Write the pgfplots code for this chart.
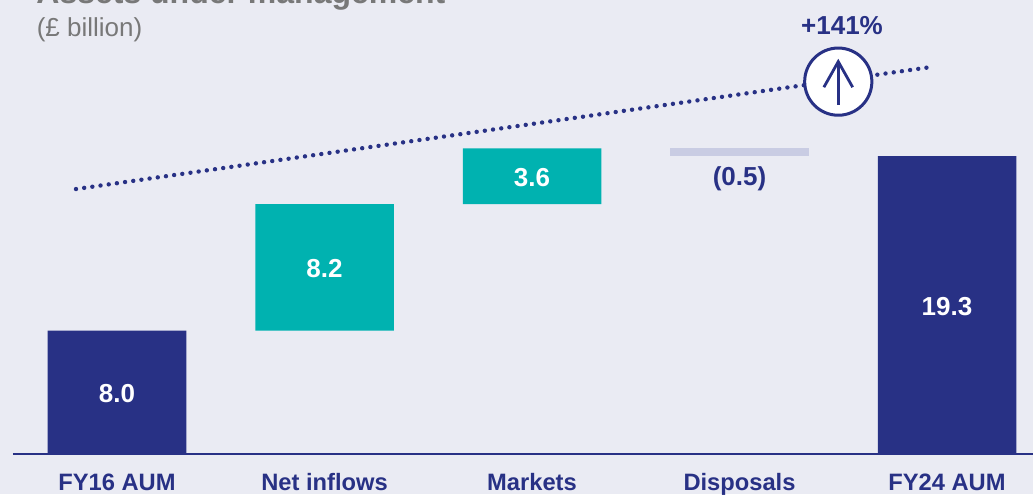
\documentclass[border=0pt]{standalone}
\usepackage{fontspec}
\setmainfont{Liberation Sans}
\usepackage{pgfplots}
\pgfplotsset{compat=1.18}
\definecolor{navy}{RGB}{40,49,133}
\definecolor{teal2}{RGB}{0,178,176}
\definecolor{lightbar}{RGB}{201,204,227}
\definecolor{bgcol}{RGB}{234,235,243}
\definecolor{titlegray}{RGB}{120,120,120}

% arrow in a circle, drawn as one plot mark
\pgfdeclareplotmark{circlearrow}{
  \pgfsetlinewidth{1.5pt}
  \pgfpathcircle{\pgfpointorigin}{16.8pt}
  \pgfsetfillcolor{white}
  \pgfusepathqfillstroke
  \pgfsetlinewidth{1.7pt}
  \pgfsetmiterjoin
  \pgfpathmoveto{\pgfqpoint{0pt}{-11.6pt}}
  \pgfpathlineto{\pgfqpoint{0pt}{9.5pt}}
  \pgfusepathqstroke
  \pgfsetlinewidth{1.4pt}
  \pgfpathmoveto{\pgfqpoint{-7.2pt}{-2.8pt}}
  \pgfpathlineto{\pgfqpoint{0pt}{10pt}}
  \pgfpathlineto{\pgfqpoint{7.2pt}{-2.8pt}}
  \pgfusepathqstroke
}

\pgfplotsset{
  wfall/.style={
    at={(6.5pt,20pt)}, anchor=south west,
    scale only axis, width=510pt, height=227pt,
    xmin=-0.5012, xmax=4.4145, ymin=0, ymax=29.42,
    clip=false,
  },
  barlabel/.style={
    draw=none, mark=none, forget plot,
    nodes near coords, point meta=explicit symbolic,
    nodes near coords align=center,
    every node near coord/.style={font=\fontsize{13}{15}\selectfont\bfseries, text=#1, anchor=center, inner sep=0pt},
  },
}

\begin{document}
\begin{tikzpicture}[x=1pt,y=1pt]
\useasboundingbox (0,0) rectangle (516.5,247);
\clip (0,0) rectangle (516.5,247);
\fill[bgcol] (0,0) rectangle (516.5,247);

% floating bars
\begin{axis}[
  wfall, hide axis,
  ybar stacked, bar width=69.25pt,
]
\addplot[draw=none, fill=none] coordinates {(0,0)(1,8)(2,16.2)(3,19.3)(4,0)};
\addplot[draw=none, fill=navy] coordinates {(0,8)(1,0)(2,0)(3,0)(4,19.3)};
\addplot[draw=none, fill=teal2] coordinates {(0,0)(1,8.2)(2,3.6)(3,0)(4,0)};
\addplot[draw=none, fill=lightbar] coordinates {(0,0)(1,0)(2,0)(3,0.5)(4,0)};
\end{axis}

% axis line, category names, trend line and labels
\begin{axis}[
  wfall,
  axis x line=bottom, axis y line=none,
  axis line style={draw=navy, line width=0.8pt, -},
  xtick={0,1,2,3,4},
  xticklabels={FY16 AUM,Net inflows,Markets,Disposals,FY24 AUM},
  major tick length=0pt,
  xticklabel style={font=\fontsize{11.85}{14}\selectfont\bfseries, text=navy, anchor=base, yshift=-18.35pt, inner sep=0pt},
]
\addplot[navy, line width=2.2pt, line cap=round, dash pattern=on 0pt off 4.13pt]
  coordinates {(-0.1976,17.17)(3.904,25.04)};
\addplot[only marks, mark=circlearrow, mark options={draw=navy, fill=white, solid}, navy]
  coordinates {(3.476,24.13)};
\addplot[barlabel=white] coordinates {(0,3.95)[8.0] (1,12.05)[8.2] (2,17.9)[3.6] (4,9.55)[19.3]};
\addplot[barlabel=navy] coordinates {(3,17.85)[(0.5)] (3.494,27.75)[+141\%]};
\end{axis}

% clipped heading at the top edge
\node[anchor=base west, inner sep=0pt, text=titlegray, font=\fontsize{16}{18}\selectfont\bfseries] at (18,245) {Assets under management};
\node[anchor=base west, inner sep=0pt, text=titlegray, font=\fontsize{13}{15}\selectfont] at (18.2,229) {(£ billion)};
\end{tikzpicture}
\end{document}
